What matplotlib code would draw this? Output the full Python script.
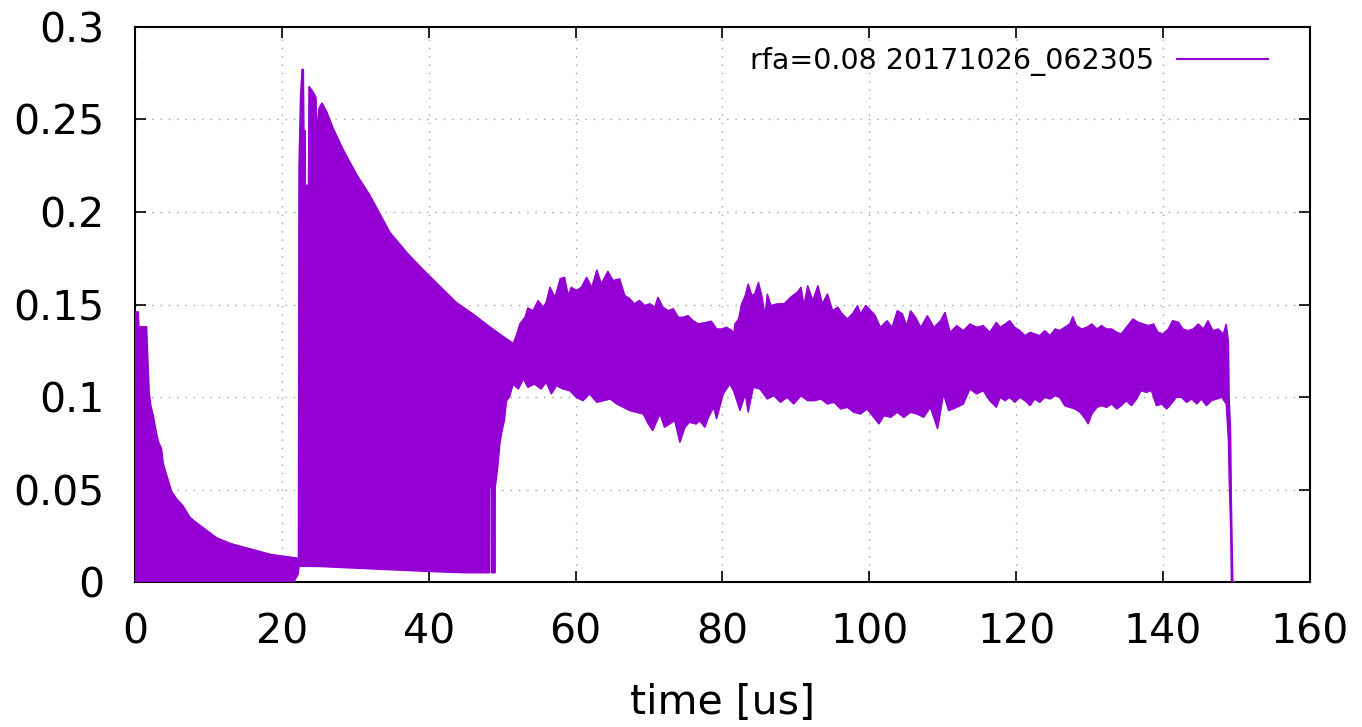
import matplotlib
matplotlib.use("Agg")
import matplotlib.pyplot as plt
from matplotlib.lines import Line2D
import numpy as np

# envelope of the rfa signal, (time [us], value)
upper_env = [
    (0, 0.146), (0.45, 0.146), (0.54, 0.138), (1.59, 0.138), (1.73, 0.123),
    (1.95, 0.102), (2.18, 0.095), (2.5, 0.090), (2.86, 0.082), (3.18, 0.076),
    (3.63, 0.072), (3.86, 0.064), (4.31, 0.058), (5.0, 0.049), (5.67, 0.045),
    (6.58, 0.041), (7.49, 0.035), (8.4, 0.032), (9.76, 0.028), (11.1, 0.024),
    (12.9, 0.021), (14.7, 0.019), (16.6, 0.017), (18.4, 0.015), (20.2, 0.014),
    (22.0, 0.013), (22.25, 0.013),
    (22.33, 0.2245), (22.54, 0.262), (22.74, 0.277), (22.94, 0.277), (23.01, 0.244),
    (23.20, 0.244), (23.24, 0.123), (23.34, 0.123), (23.38, 0.2145), (23.62, 0.2145),
    (23.69, 0.268), (24.24, 0.265), (24.65, 0.262), (24.78, 0.243), (25.05, 0.256),
    (25.46, 0.259), (26.14, 0.254), (26.96, 0.2456), (28.32, 0.234), (30.23, 0.220),
    (32.0, 0.209), (33.36, 0.199), (34.72, 0.189), (37.04, 0.178), (39.2, 0.169),
    (41.5, 0.160), (43.8, 0.151), (46.0, 0.145), (48.3, 0.138), (49.7, 0.134),
    (51.5, 0.129),
    (52.0, 0.1341), (52.4, 0.1395), (53.1, 0.1431), (53.5, 0.1482), (54.2, 0.1467),
    (54.9, 0.1522), (55.6, 0.1486), (56.0, 0.1513), (56.5, 0.1594), (57.2, 0.154),
    (57.9, 0.1639), (58.5, 0.1648), (59.0, 0.1549), (59.4, 0.1594), (60.1, 0.1576),
    (60.8, 0.1594), (61.5, 0.1648), (62.2, 0.1594), (62.9, 0.1688), (63.5, 0.1612),
    (64.4, 0.168), (65.1, 0.163), (66.0, 0.1639), (66.7, 0.1549), (67.4, 0.1531),
    (68.0, 0.1504), (68.7, 0.1522), (69.4, 0.1495), (70.1, 0.1504), (70.8, 0.1486),
    (71.2, 0.154), (71.9, 0.1486), (72.6, 0.1467), (73.3, 0.1477), (74.0, 0.1431),
    (74.6, 0.1431), (75.3, 0.144), (76.0, 0.1413), (76.7, 0.1395),
    (77.84, 0.1404), (78.5, 0.141), (79.2, 0.1368), (79.87, 0.1368), (80.6, 0.1377),
    (81.3, 0.1359), (81.5, 0.1332), (81.7, 0.1395), (82.2, 0.1422), (82.6, 0.1504),
    (83.1, 0.1549), (83.5, 0.1612), (84.0, 0.1549), (84.4, 0.1558), (84.9, 0.1621),
    (85.4, 0.154), (85.8, 0.144), (86.1, 0.1558), (86.6, 0.1495), (87.5, 0.1504),
    (88.4, 0.1504), (89.3, 0.154), (90.2, 0.1567), (90.7, 0.1594), (91.1, 0.1495),
    (91.6, 0.1603), (92.3, 0.1522), (93.0, 0.1603), (93.6, 0.1504), (94.3, 0.1558),
    (95.0, 0.1467), (95.7, 0.1486), (96.3, 0.145), (97.0, 0.1422), (97.7, 0.145),
    (98.4, 0.1495), (98.8, 0.145), (99.5, 0.1495), (100.2, 0.1467), (100.8, 0.144),
    (101.5, 0.1377), (102.4, 0.1413), (103.1, 0.1377), (103.8, 0.1467), (104.5, 0.145),
    (105.1, 0.1386), (105.6, 0.1467), (106.3, 0.1431), (107.0, 0.1377), (107.9, 0.144),
    (108.8, 0.1377), (109.7, 0.1413), (110.3, 0.1458), (111.0, 0.135), (111.9, 0.1386),
    (112.8, 0.1359), (113.7, 0.1395), (114.6, 0.1377), (115.5, 0.1386), (116.4, 0.135),
    (117.3, 0.1404),
    (117.8, 0.1377), (118.5, 0.1395), (119.1, 0.1413), (119.8, 0.1377), (120.5, 0.1359),
    (121.2, 0.1332), (121.9, 0.135), (122.5, 0.1341), (123.2, 0.1332), (123.9, 0.1359),
    (124.6, 0.1332), (125.3, 0.1368), (125.9, 0.1359), (126.6, 0.1377), (127.3, 0.1395),
    (127.7, 0.1435), (128.2, 0.1386), (128.9, 0.1368), (129.6, 0.1377), (130.3, 0.1395),
    (131.0, 0.1368), (131.6, 0.1386), (132.3, 0.1368), (133.0, 0.1368), (133.7, 0.135),
    (134.3, 0.1341), (135.0, 0.1377), (135.9, 0.1422), (136.6, 0.1404), (137.3, 0.1395),
    (138.0, 0.1386), (138.7, 0.1395), (139.3, 0.135), (140.0, 0.1341), (140.7, 0.1368),
    (141.3, 0.1413), (142.1, 0.1404), (142.7, 0.1368), (143.4, 0.1359), (144.1, 0.1368),
    (144.8, 0.1395), (145.5, 0.1368), (146.1, 0.1413), (146.8, 0.1359), (147.5, 0.1368),
    (148.2, 0.1341), (148.6, 0.1395),
    (148.9, 0.130), (149.0, 0.100), (149.2, 0.080), (149.3, 0.044), (149.5, 0.0),
    (149.8, 0.0),
]

lower_env = [
    (0, 0.0), (21.6, 0.0), (21.9, 0.002), (22.2, 0.004), (22.35, 0.0085), (25, 0.0084),
    (30, 0.0075), (35, 0.0066), (40, 0.0057), (45, 0.005), (47.9, 0.005), (48.25, 0.005),
    (48.26, 0.051), (48.5, 0.051), (48.52, 0.005), (49.05, 0.005), (49.06, 0.051),
    (49.4, 0.062), (49.7, 0.075), (50.0, 0.082), (50.3, 0.087), (50.6, 0.098),
    (51.0, 0.100), (51.5, 0.107),
    (52.2, 0.1043), (52.9, 0.1097), (53.5, 0.1052), (54.4, 0.107), (55.3, 0.1043),
    (56.0, 0.1079), (56.7, 0.1016), (57.4, 0.1061), (58.3, 0.1043), (59.2, 0.1034),
    (60.1, 0.0998), (61.0, 0.098), (61.9, 0.1016), (62.9, 0.0971), (63.8, 0.098),
    (64.7, 0.0989), (65.6, 0.0962), (66.5, 0.0944), (67.4, 0.0926), (68.3, 0.0917),
    (69.2, 0.0908), (69.9, 0.0854), (70.5, 0.0818), (71.5, 0.0908), (72.1, 0.0836),
    (72.8, 0.0854), (73.5, 0.0872), (74.2, 0.0754), (74.9, 0.0836), (75.5, 0.0863),
    (76.4, 0.0854),
    (76.9, 0.0872), (77.6, 0.0836), (78.1, 0.089), (78.8, 0.0944), (79.2, 0.0881),
    (80.1, 0.1016), (81.0, 0.107), (81.5, 0.1034), (82.4, 0.0926), (83.1, 0.1016),
    (83.5, 0.0917), (84.2, 0.1052), (85.1, 0.1043), (86.1, 0.0989), (87.0, 0.1007),
    (87.9, 0.0971), (88.8, 0.0998), (89.7, 0.0962), (90.7, 0.1007), (91.6, 0.098),
    (92.5, 0.098), (93.4, 0.0989), (94.3, 0.0962), (95.2, 0.0971), (96.1, 0.0935),
    (97.0, 0.0944), (97.9, 0.0917), (98.8, 0.0908), (99.7, 0.0935), (100.6, 0.089),
    (101.3, 0.0854), (102.0, 0.0899), (102.9, 0.089), (103.8, 0.0917), (104.7, 0.089),
    (105.6, 0.0917), (106.5, 0.0908), (107.4, 0.089), (108.3, 0.0944), (109.3, 0.0827),
    (110.1, 0.1016), (110.8, 0.0926), (111.9, 0.0944), (112.8, 0.0962), (113.7, 0.1043),
    (114.6, 0.1016), (115.5, 0.1034), (116.4, 0.098), (117.3, 0.0944),
    (117.8, 0.0998), (118.5, 0.098), (119.1, 0.0998), (119.8, 0.0971), (120.5, 0.0998),
    (121.2, 0.098), (121.9, 0.0953), (122.5, 0.0989), (123.2, 0.0971), (123.9, 0.0998),
    (124.6, 0.0989), (125.3, 0.1007), (125.9, 0.0998), (126.6, 0.0953), (127.3, 0.0944),
    (128.0, 0.0935), (128.7, 0.0917), (129.4, 0.0881), (129.8, 0.0854), (130.3, 0.0908),
    (131.0, 0.0944), (131.6, 0.0953), (132.3, 0.0944), (133.0, 0.0962), (133.7, 0.0935),
    (134.3, 0.0953), (135.0, 0.098), (135.7, 0.0953), (136.4, 0.0989), (137.0, 0.1034),
    (137.7, 0.1025), (138.4, 0.1034), (139.1, 0.0953), (139.8, 0.0962), (140.5, 0.0935),
    (141.1, 0.0962), (141.8, 0.0998), (142.5, 0.0998), (143.2, 0.0971), (143.9, 0.0989),
    (144.6, 0.0962), (145.2, 0.0989), (145.9, 0.0953), (146.6, 0.098), (147.3, 0.0989),
    (148.0, 0.0998), (148.6, 0.0962),
    (148.9, 0.076), (149.0, 0.055), (149.2, 0.029), (149.3, 0.0), (149.8, 0.0),
]

t_upper, upper = zip(*upper_env)
t_lower, lower = zip(*lower_env)

label = "rfa=0.08 20171026_062305"
color = "#9400d3"

fig = plt.figure(figsize=(13.62, 7.27), dpi=100)
ax = fig.add_axes([0.0991, 0.1994, 0.8627, 0.7635])

xs = np.concatenate([t_upper, t_lower[::-1]])
ys = np.concatenate([upper, lower[::-1]])
ax.fill(xs, ys, color=color, lw=1.0, zorder=3)

ax.set_xlim(0, 160)
ax.set_ylim(0, 0.3)
ax.set_xticks(np.arange(0, 161, 20))
ax.set_yticks([0, 0.05, 0.1, 0.15, 0.2, 0.25, 0.3])
ax.set_yticklabels(["0", "0.05", "0.1", "0.15", "0.2", "0.25", "0.3"])

ax.grid(True, color="#a0a0a0", linestyle=(0, (1, 5)), linewidth=1.0)
ax.set_axisbelow(True)
ax.tick_params(direction="in", length=8, width=1.2, top=True, right=True,
               labelsize=29.5)
ax.tick_params(axis="x", pad=22)
ax.tick_params(axis="y", pad=22)
for s in ax.spines.values():
    s.set_linewidth(1.5)

ax.set_xlabel("time [us]", fontsize=29.5, labelpad=22)

h = Line2D([], [], color=color, lw=1.5)
ax.legend([h], [label], loc="center right", bbox_to_anchor=(0.964, 0.938),
          frameon=False, markerfirst=False, fontsize=20.5, handlelength=3.2,
          handletextpad=0.8, borderpad=0, borderaxespad=0)

fig.savefig("out.png", dpi=100)
